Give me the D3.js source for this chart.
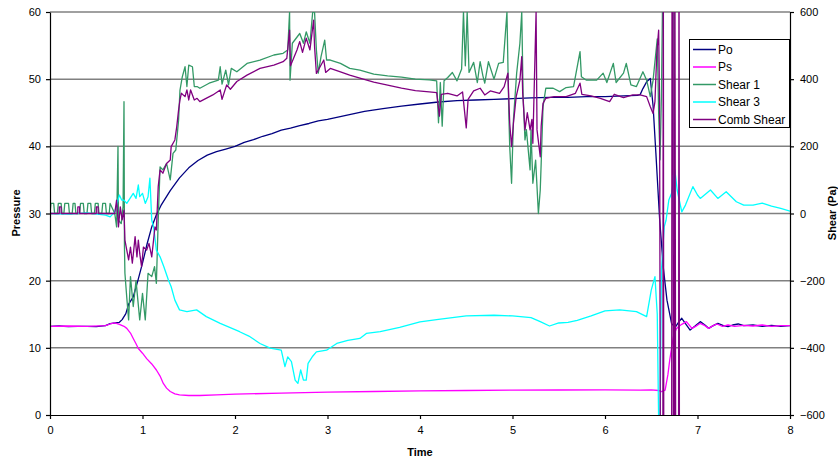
<!DOCTYPE html>
<html><head><meta charset="utf-8">
<script src="https://cdn.jsdelivr.net/npm/d3@7"></script>
<style>body{margin:0;background:#fff}svg{display:block}text{font-family:Arial,"Liberation Sans",sans-serif}</style>
</head><body><svg id="c" width="838" height="463"></svg>
<script>
// ---------- DATA ----------
const xTicks = [0,1,2,3,4,5,6,7,8];
const pressureTicks = [0,10,20,30,40,50,60];
const shearTicks = [-600,-400,-200,0,200,400,600];
const seriesNames = ["Po","Ps","Shear 1","Shear 3","Comb Shear"];

const poTime = [0,0.1,0.2,0.3,0.4,0.5,0.6,0.65,0.7,0.75,0.78,0.82,0.85,0.9,0.95,1.0,1.05,1.1,1.15,1.2,1.3,1.4,1.5,1.6,1.7,1.8,1.9,2.0,2.1,2.2,2.3,2.4,2.5,2.6,2.7,2.8,2.9,3.0,3.2,3.4,3.6,3.8,4.0,4.2,4.4,4.6,4.8,5.0,5.2,5.4,5.6,5.8,6.0,6.2,6.35,6.38,6.41,6.45,6.49,6.52,6.55,6.59,6.63,6.67,6.72,6.76,6.8,6.83,6.87,6.92,6.97,7.03,7.08,7.12,7.17,7.22,7.28,7.33,7.38,7.44,7.5,7.6,7.7,7.8,7.9,8.0];
const poValues = [13.2,13.25,13.15,13.2,13.2,13.15,13.3,13.6,13.7,13.8,14.2,15.1,16.5,17.6,20.0,22.6,25.5,28.0,29.8,31.2,33.4,35.3,36.8,37.9,38.7,39.2,39.6,40.0,40.6,41.0,41.5,41.9,42.4,42.7,43.1,43.4,43.8,44.0,44.6,45.2,45.6,46.0,46.3,46.6,46.8,46.9,47.0,47.1,47.2,47.3,47.3,47.4,47.4,47.5,47.6,47.7,48.6,49.6,50.1,46.0,39.0,29.3,22.0,17.1,13.6,13.1,13.9,14.4,13.6,12.65,13.2,13.9,13.4,12.9,13.3,13.65,13.3,13.15,13.4,13.55,13.3,13.4,13.2,13.35,13.2,13.3];

const psTime = [0,0.2,0.4,0.6,0.65,0.7,0.75,0.8,0.83,0.87,0.9,0.93,0.955,1.0,1.045,1.1,1.15,1.19,1.225,1.26,1.3,1.35,1.4,1.5,1.62,1.8,2.0,2.5,3.0,3.5,4.0,4.5,5.0,5.5,6.0,6.38,6.5,6.58,6.61,6.65,6.68,6.7,6.72,6.74,6.77,6.79,6.83,6.88,6.94,6.98,7.03,7.08,7.12,7.17,7.21,7.27,7.33,7.4,7.5,7.6,7.7,7.8,7.9,8.0];
const psValues = [13.2,13.25,13.2,13.3,13.55,13.7,13.5,13.2,12.9,12.2,11.4,10.6,9.9,9.2,8.4,7.6,6.7,5.8,4.7,4.0,3.5,3.15,3.0,2.9,2.9,3.0,3.1,3.25,3.4,3.5,3.6,3.65,3.7,3.72,3.75,3.7,3.75,3.65,3.47,3.7,6.0,8.2,10.0,11.7,12.8,13.1,13.5,13.9,12.9,13.2,13.65,13.3,12.9,13.3,13.55,13.2,13.4,13.2,13.35,13.25,13.4,13.2,13.3,13.3];

const shear1Time = [0,0.01,0.04,0.05,0.08,0.09,0.12,0.13,0.15,0.16,0.2,0.21,0.24,0.25,0.27,0.28,0.32,0.33,0.36,0.37,0.4,0.41,0.44,0.45,0.48,0.49,0.52,0.53,0.56,0.57,0.6,0.61,0.64,0.65,
 0.7,0.72,0.735,0.74,0.77,0.79,0.8,0.805,0.81,0.83,0.85,0.87,0.9,0.93,0.97,1.0,1.03,1.06,1.1,1.13,1.15,1.17,1.19,1.22,1.26,1.3,1.33,1.36,1.39,1.405,1.43,1.46,1.48,1.5,1.54,1.56,1.59,1.62,1.72,1.82,1.84,1.86,1.9,1.93,1.96,2.02,2.13,2.27,2.42,2.52,2.57,2.59,2.595,2.62,2.7,2.74,2.77,2.81,2.84,2.86,2.88,2.9,2.93,2.97,2.99,3.03,3.14,3.24,3.35,3.5,3.65,3.8,3.95,4.1,4.18,4.2,4.22,4.24,4.26,4.3,4.35,4.4,4.45,4.47,4.49,4.51,4.53,4.58,4.62,4.65,4.68,4.7,4.74,4.8,4.85,4.9,4.94,4.96,4.97,4.99,5.01,5.045,5.08,5.1,5.115,5.135,5.15,5.19,5.2,5.22,5.25,5.28,5.3,5.31,5.33,5.36,5.44,5.51,5.58,5.66,5.73,5.745,5.8,5.91,5.98,6.02,6.09,6.12,6.2,6.23,6.28,6.34,6.41,6.45,6.49,6.52,6.565,6.58,6.595,6.61,6.625,6.745,6.75,8.0];
const shear1Values = [0,30,30,0,0,30,30,0,0,30,30,0,0,30,30,0,0,30,30,0,0,30,30,0,0,30,30,0,0,30,30,0,0,30,
 0,-40,200,-20,-30,20,333,-100,-178,-250,-317,-188,-277,-200,-317,-238,-317,-178,-188,-158,-208,-19,139,130,149,100,179,189,278,367,407,437,378,442,437,378,378,373,388,397,437,385,427,383,432,422,447,457,472,477,487,600,397,507,536,507,541,507,600,600,487,418,467,516,457,457,447,432,427,415,410,406,400,398,395,270,390,260,395,405,420,395,430,600,440,600,420,450,390,452,410,388,452,400,447,450,600,300,199,90,278,418,507,600,348,219,250,130,249,90,159,0,70,149,318,373,373,363,375,378,482,407,397,397,418,390,447,390,418,447,383,378,422,397,348,397,520,300,160,350,700,700,-700,-700];

const shear3Time = [0,0.2,0.4,0.6,0.65,0.7,0.75,0.775,0.8,0.83,0.865,0.9,0.93,0.955,0.97,1.0,1.03,1.06,1.08,1.1,1.12,1.15,1.19,1.23,1.28,1.31,1.35,1.4,1.48,1.585,1.69,1.84,2.05,2.15,2.27,2.38,2.5,2.54,2.57,2.61,2.65,2.68,2.71,2.74,2.77,2.79,2.84,2.88,2.99,3.1,3.22,3.35,3.42,3.57,3.78,4.0,4.2,4.5,4.8,5.0,5.2,5.3,5.4,5.5,5.6,5.7,5.85,6.0,6.16,6.34,6.45,6.5,6.54,6.565,6.58,6.595,6.61,6.64,6.66,6.69,6.72,6.755,6.78,6.83,6.87,6.95,7.0,7.03,7.14,7.22,7.31,7.42,7.5,7.6,7.7,7.8,7.9,8.0];
const shear3Values = [0,-2,2,-5,-10,5,55,40,40,30,45,60,45,85,50,60,30,50,105,-20,-40,-109,-129,-158,-198,-218,-258,-287,-292,-287,-307,-327,-352,-365,-387,-401,-407,-456,-427,-441,-496,-506,-466,-496,-496,-446,-425,-412,-407,-387,-378,-372,-357,-352,-339,-323,-315,-305,-303,-305,-310,-322,-335,-326,-324,-318,-305,-290,-287,-292,-307,-228,-188,-300,-620,-620,-170,-40,-20,40,60,130,70,5,25,80,55,45,70,45,65,35,25,25,31,22,15,7];

const combTime = [0,0.1,0.101,0.12,0.121,0.3,0.301,0.32,0.321,0.5,0.501,0.52,0.521,0.7,
 0.72,0.74,0.76,0.78,0.8,0.81,0.83,0.85,0.87,0.89,0.905,0.92,0.94,0.955,0.97,0.99,1.01,1.045,1.07,1.1,1.135,1.15,1.17,1.19,1.22,1.26,1.3,1.31,1.35,1.37,1.39,1.405,1.42,1.46,1.48,1.5,1.52,1.56,1.59,1.62,1.76,1.84,1.86,1.91,1.95,2.02,2.13,2.27,2.42,2.52,2.56,2.59,2.6,2.67,2.7,2.73,2.77,2.81,2.85,2.86,2.88,2.92,2.96,2.98,3.03,3.14,3.24,3.35,3.5,3.65,3.8,3.95,4.1,4.18,4.21,4.23,4.3,4.4,4.46,4.5,4.52,4.58,4.65,4.7,4.76,4.86,4.91,4.95,4.97,4.99,5.01,5.04,5.08,5.1,5.11,5.135,5.16,5.19,5.21,5.22,5.255,5.265,5.3,5.31,5.33,5.36,5.45,5.58,5.68,5.73,5.75,5.85,5.95,6.05,6.1,6.2,6.3,6.38,6.45,6.49,6.52,6.54,6.56,6.58,6.59,6.6,6.625,6.63,6.636,6.72,6.725,6.735,6.74,6.75,6.755,6.765,6.795,6.8,6.805,8.0];
const combValues = [0,0,20,20,0,0,20,20,0,0,20,20,0,0,
 40,-40,20,-19,10,-79,-109,-138,-100,-148,-110,-69,-129,-79,-119,-158,-100,-109,-89,-129,-40,-49,80,130,120,149,159,199,219,258,308,338,358,348,368,338,368,338,343,333,353,368,340,383,370,393,412,432,442,452,462,546,440,487,512,480,522,487,576,497,417,437,457,420,432,422,412,403,391,382,373,366,362,360,290,355,358,350,362,255,340,365,373,353,365,358,378,418,268,199,268,348,397,467,360,249,300,249,280,209,600,249,169,260,328,343,348,348,358,388,355,350,343,333,355,345,353,353,348,318,298,333,477,546,330,-900,-900,900,-900,-900,900,900,-900,-900,900,-900,-900,900,-900,-900];

const colors = ["#000080","#FF00FF","#339966","#00FFFF","#800080"];

// ---------- CHART ----------
const svg = d3.select("#c");
const L = 50, R = 790, T = 12, B = 415;
const x = d3.scaleLinear().domain([0,8]).range([L,R]);
const yL = d3.scaleLinear().domain([0,60]).range([B,T]);
const yR = d3.scaleLinear().domain([-600,600]).range([B,T]);

svg.append("defs").append("clipPath").attr("id","plot")
  .append("rect").attr("x",L).attr("y",T).attr("width",R-L).attr("height",B-T);

// gridlines
svg.append("g").selectAll("line").data(pressureTicks.filter(d=>d>0)).join("line")
  .attr("x1",L).attr("x2",R).attr("y1",d=>yL(d)).attr("y2",d=>yL(d))
  .attr("stroke","#808080").attr("stroke-width",1.5);

// series
const g = svg.append("g").attr("clip-path","url(#plot)");
function draw(times, vals, yS, color){
  const pts = times.map((t,i)=>[t, vals[i]]);
  g.append("path").datum(pts)
    .attr("fill","none").attr("stroke",color).attr("stroke-width",1.3)
    .attr("stroke-linejoin","round")
    .attr("d", d3.line().x(d=>x(d[0])).y(d=>yS(d[1])));
}
draw(poTime, poValues, yL, colors[0]);
draw(psTime, psValues, yL, colors[1]);
draw(shear1Time, shear1Values, yR, colors[2]);
draw(shear3Time, shear3Values, yR, colors[3]);
draw(combTime, combValues, yR, colors[4]);

// axes
function style(sel){
  sel.selectAll("text").attr("font-size",11).attr("fill","#000").style("font-family","Arial, 'Liberation Sans', sans-serif");
  sel.selectAll("line,path").attr("stroke","#000").attr("stroke-width",1.2);
}
svg.append("g").attr("transform",`translate(0,${B})`)
  .call(d3.axisBottom(x).tickValues(xTicks).tickFormat(d3.format("d")).tickSize(4).tickSizeOuter(0).tickPadding(7))
  .call(style);
svg.append("g").attr("transform",`translate(${L},0)`)
  .call(d3.axisLeft(yL).tickValues(pressureTicks).tickSize(4).tickSizeOuter(0).tickPadding(5))
  .call(style);
svg.append("g").attr("transform",`translate(${R},0)`)
  .call(d3.axisRight(yR).tickValues(shearTicks).tickSize(4).tickSizeOuter(0).tickPadding(6))
  .call(style);

// titles
svg.append("text").attr("x",420).attr("y",456).attr("text-anchor","middle")
  .attr("font-size",11).attr("font-weight","bold").text("Time");
svg.append("text").attr("transform","translate(20,213) rotate(-90)").attr("text-anchor","middle")
  .attr("font-size",11).attr("font-weight","bold").text("Pressure");
svg.append("text").attr("transform","translate(836,213) rotate(-90)").attr("text-anchor","middle")
  .attr("font-size",11).attr("font-weight","bold").text("Shear (Pa)");

// legend
const lg = svg.append("g");
lg.append("rect").attr("x",689.5).attr("y",39.5).attr("width",100).attr("height",88)
  .attr("fill","#fff").attr("stroke","#000").attr("stroke-width",1);
seriesNames.forEach((n,i)=>{
  const yy = 49.5 + i*17.5;
  lg.append("line").attr("x1",693).attr("x2",716).attr("y1",yy).attr("y2",yy)
    .attr("stroke",colors[i]).attr("stroke-width",1.5);
  lg.append("text").attr("x",718).attr("y",yy).attr("dy","0.36em").attr("font-size",12).text(n);
});
</script></body></html>
